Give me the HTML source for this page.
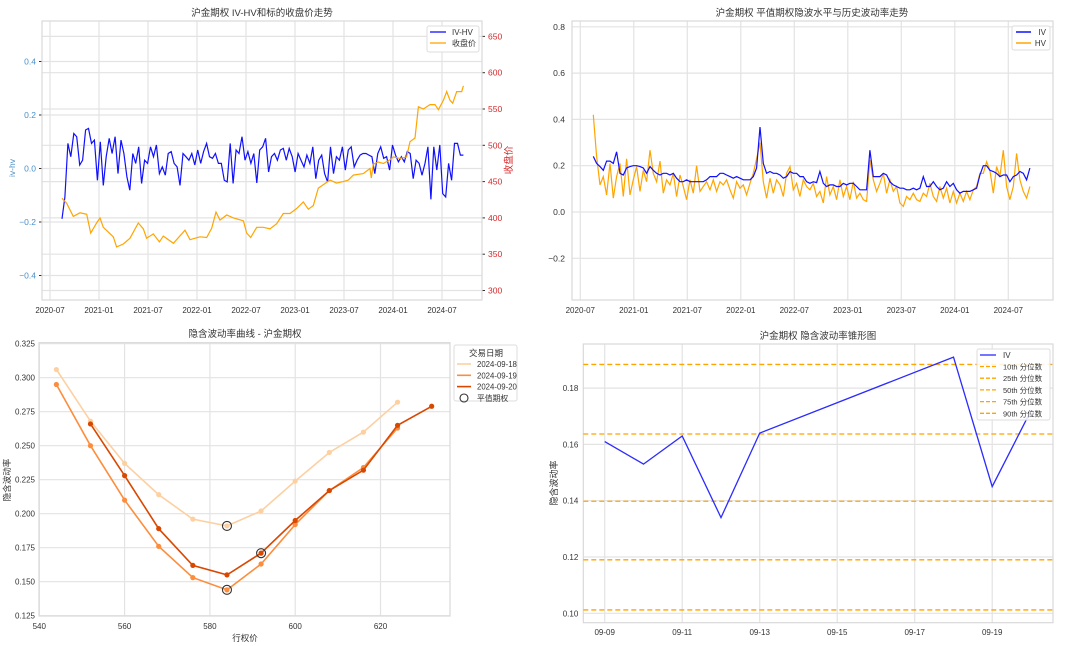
<!DOCTYPE html>
<html><head><meta charset="utf-8"><style>
body{margin:0;background:#fff}
svg{display:block;font-family:"Liberation Sans","Noto Sans CJK SC",sans-serif}
</style></head><body>
<svg id="fig" width="1080" height="646" viewBox="0 0 1080 646"></svg>
<script>
// ===== Panel 1 data =====
const p1IvHv = [-0.188,-0.106,0.094,0.044,0.131,0.119,0.013,0.031,0.144,0.15,0.094,0.106,-0.044,0.1,-0.063,0.044,0.113,0.056,0.119,-0.019,0.106,0.056,-0.031,-0.081,0.056,0.019,0.081,-0.056,0.031,0.019,0.081,0.044,0.088,-0.019,0.006,-0.025,0.056,0.063,0.019,0.006,-0.063,0.056,0.044,0.031,0.056,0.013,0.069,0.019,0.063,0.094,0.044,0.038,0.056,0.019,0.019,-0.044,-0.05,0.094,-0.056,0.069,0.056,0.119,0.031,0.063,0.019,0.056,-0.054,0.069,0.081,0.113,-0.013,0.044,0.056,0.031,0.069,0.075,0.031,0.075,0.044,-0.013,0.056,0.031,0.006,0.05,0.019,0.081,-0.038,0.031,0.05,-0.019,-0.05,0.081,-0.019,0.044,0.031,0.081,-0.006,0.069,0.081,0.006,0.031,0.05,0.056,0.056,0.05,0.044,-0.019,0.056,0.081,0.038,0.044,-0.006,0.088,0.05,0.025,0.044,0.025,0.063,0.056,-0.038,0.031,0.019,-0.025,0.019,0.081,-0.115,0.081,-0.006,0.088,-0.094,-0.106,0.019,-0.044,0.094,0.094,0.05,0.05];
const p1Start = 2020.622, p1End = 2024.718;
const closeYears = [0.122,0.170,0.238,0.306,0.374,0.415,0.476,0.510,0.544,0.646,0.680,0.748,0.816,0.901,0.952,0.986,1.054,1.116,1.156,1.259,1.378,1.429,1.531,1.599,1.650,1.694,1.735,1.803,1.871,1.973,2.007,2.048,2.109,2.177,2.245,2.313,2.381,2.449,2.517,2.585,2.636,2.687,2.738,2.857,2.925,2.993,3.044,3.095,3.197,3.265,3.279,3.299,3.350,3.401,3.469,3.503,3.571,3.639,3.673,3.724,3.759,3.810,3.878,3.929,3.963,4.014,4.048,4.082,4.109,4.150,4.201,4.218];
const closePrice = [427,420,402,407,405,379,393,400,387,374,360,364,372,393,385,372,378,367,375,365,383,370,374,373,386,408,397,404,400,396,379,373,387,387,385,392,406,406,413,422,412,417,441,452,448,450,452,459,461,468,455,474,477,475,480,484,482,484,505,510,553,550,556,556,549,562,574,562,558,574,574,582];
const p1XTicks = ["2020-07","2021-01","2021-07","2022-01","2022-07","2023-01","2023-07","2024-01","2024-07"];
const p1LeftTicks = [-0.4,-0.2,0.0,0.2,0.4];
const p1RightTicks = [300,350,400,450,500,550,600,650];
// ===== Panel 2 data =====
const p2Iv = [.24,.21,.196,.18,.22,.22,.21,.26,.167,.16,.19,.196,.20,.20,.196,.19,.167,.196,.18,.167,.16,.167,.167,.16,.167,.146,.131,.131,.139,.131,.131,.131,.131,.131,.139,.153,.153,.153,.167,.167,.16,.153,.146,.153,.146,.139,.139,.139,.153,.19,.367,.21,.167,.175,.167,.167,.16,.146,.153,.175,.167,.167,.153,.153,.131,.124,.131,.127,.175,.124,.11,.117,.117,.11,.11,.124,.117,.124,.124,.11,.096,.096,.096,.267,.153,.153,.153,.167,.16,.131,.117,.11,.103,.103,.096,.096,.103,.096,.103,.153,.11,.11,.131,.11,.096,.103,.131,.11,.124,.096,.081,.089,.089,.089,.096,.103,.16,.20,.20,.18,.175,.167,.153,.16,.16,.131,.153,.16,.175,.167,.139,.19];
const p2Hv = [.42,.24,.117,.153,.074,.21,.06,.153,.21,.067,.23,.074,.139,.196,.089,.18,.131,.267,.167,.131,.22,.081,.139,.117,.167,.067,.16,.11,.053,.139,.081,.20,.089,.11,.131,.096,.139,.089,.131,.117,.139,.096,.06,.131,.103,.117,.074,.124,.167,.23,.30,.131,.06,.146,.081,.139,.117,.067,.167,.196,.096,.124,.067,.139,.11,.096,.124,.067,.089,.039,.153,.074,.11,.053,.139,.067,.11,.053,.131,.06,.081,.053,.046,.224,.139,.089,.124,.167,.081,.139,.089,.11,.039,.024,.067,.053,.081,.053,.046,.081,.067,.124,.067,.046,.11,.06,.103,.039,.089,.039,.081,.046,.089,.053,.096,.11,.167,.167,.217,.18,.081,.196,.153,.267,.11,.053,.11,.253,.139,.089,.06,.11];
const p2Start = 2020.6215, p2Step = 0.03115;
const p2YTicks = [-0.2,0.0,0.2,0.4,0.6,0.8];
// ===== Panel 3 data =====
const strikes18 = [544,552,560,568,576,584,592,600,608,616,624];
const iv18 = [0.306,0.268,0.237,0.214,0.196,0.191,0.202,0.224,0.245,0.260,0.282];
const strikes19 = [544,552,560,568,576,584,592,600,608,616,624];
const iv19 = [0.295,0.250,0.210,0.176,0.153,0.144,0.163,0.192,0.217,0.234,0.263];
const strikes20 = [552,560,568,576,584,592,600,608,616,624,632];
const iv20 = [0.266,0.228,0.189,0.162,0.155,0.171,0.195,0.217,0.232,0.265,0.279];
const atmStrike = [584,584,592];
const atmIv = [0.191,0.144,0.171];
const p3XTicks = [540,560,580,600,620];
const p3YTicks = [0.125,0.150,0.175,0.200,0.225,0.250,0.275,0.300,0.325];
// ===== Panel 4 data =====
const coneDays = [9,10,11,12,13,18,19,20];
const coneIv = [0.161,0.153,0.163,0.134,0.164,0.191,0.145,0.172];
const quantLabels = ["10th 分位数","25th 分位数","50th 分位数","75th 分位数","90th 分位数"];
const quantValues = [0.1012,0.119,0.1398,0.1637,0.1884];
const p4XTicks = [9,11,13,15,17,19];
const p4YTicks = [0.10,0.12,0.14,0.16,0.18];

const NS="http://www.w3.org/2000/svg";
const fig=document.getElementById('fig');
function mk(tag,attrs,parent,text){const e=document.createElementNS(NS,tag);for(const k in attrs)e.setAttribute(k,attrs[k]);if(text!==undefined)e.textContent=text;(parent||fig).appendChild(e);return e;}
const GRID="#e3e3e3", TXT="#333";

function frame(name,x0,y0,x1,y1){
  const g=mk('g',{});
  
  
  return g;
}
function border(g,x0,y0,x1,y1){const r=mk('rect',{x:x0,y:y0,width:x1-x0,height:y1-y0,fill:'none',stroke:'#d9d9d9','stroke-width':1.2},g);}
function hgrid(g,y,x0,x1){mk('line',{x1:x0,x2:x1,y1:y,y2:y,stroke:GRID,'stroke-width':1.2},g);}
function vgrid(g,x,y0,y1){mk('line',{x1:x,x2:x,y1:y0,y2:y1,stroke:GRID,'stroke-width':1.2},g);}
function txt(g,x,y,s,opt){opt=opt||{};const t=mk('text',Object.assign({x:x,y:y,'font-size':opt.size||8.5,fill:opt.fill||TXT,'text-anchor':opt.anchor||'middle'},opt.extra||{}),g,s);return t;}
function poly(g,pts,attrs){return mk('polyline',Object.assign({points:pts.map(p=>p[0].toFixed(1)+','+p[1].toFixed(1)).join(' '),fill:'none'},attrs),g);}

// ================= Panel 1 =================
(function(){
  const X0=42,X1=482,Y0=21,Y1=300;
  const xs=t=>50+(t-2020.5)*98;
  const yl=v=>168.5-v*267.5;
  const yr=p=>145.3-(p-500)*0.726;
  const g=frame('iv-hv-close-chart');
  p1XTicks.forEach((s,i)=>{const x=xs(2020.5+i*0.5);vgrid(g,x,Y0,Y1);const t=txt(g,x,313,s,{size:8});});
  p1LeftTicks.forEach(v=>{hgrid(g,yl(v),X0,X1);mk('line',{x1:X0-3,x2:X0,y1:yl(v),y2:yl(v),stroke:'#333'},g);const t=txt(g,X0-6,yl(v)+3,(v<0?'−':'')+Math.abs(v).toFixed(1),{anchor:'end',fill:'#4a8fc9'});});
  p1RightTicks.forEach(p=>{hgrid(g,yr(p),X0,X1);mk('line',{x1:X1,x2:X1+3,y1:yr(p),y2:yr(p),stroke:'#333'},g);const t=txt(g,X1+6,yr(p)+3,String(p),{anchor:'start',fill:'#d62728'});});
  border(g,X0,Y0,X1,Y1);
  const step=(p1End-p1Start)/(p1IvHv.length-1);
  const l1=poly(g,p1IvHv.map((v,i)=>[xs(p1Start+i*step),yl(v)]),{stroke:'#1010ff','stroke-width':1.2});
  
  const l2=poly(g,closePrice.map((p,i)=>[xs(2020.5+closeYears[i]),yr(p)]),{stroke:'#ffa500','stroke-width':1.2});
  
  const tt=txt(g,262,16,'沪金期权 IV-HV和标的收盘价走势',{size:9.5});
  const yl1=txt(g,0,0,'iv-hv',{fill:'#4a8fc9',extra:{transform:'translate(15,168) rotate(-90)'}});
  const yr1=txt(g,0,0,'收盘价',{fill:'#d62728',size:9.5,extra:{transform:'translate(512,160) rotate(-90)'}});
  const lg=mk('g',{},g);
  mk('rect',{x:427,y:26,width:52,height:26,fill:'#fff',stroke:'#ddd',rx:2},lg);
  mk('line',{x1:430,x2:446,y1:32,y2:32,stroke:'#1010ff','stroke-width':1.3},lg);txt(lg,452,35,'IV-HV',{anchor:'start',size:8});
  mk('line',{x1:430,x2:446,y1:43,y2:43,stroke:'#ffa500','stroke-width':1.3},lg);txt(lg,452,46,'收盘价',{anchor:'start',size:8});
})();

// ================= Panel 2 =================
(function(){
  const X0=572,X1=1053,Y0=21,Y1=300;
  const xs=t=>580.3+(t-2020.5)*107;
  const ys=v=>212-v*231.5;
  const g=frame('iv-hv-trend-chart');
  p1XTicks.forEach((s,i)=>{const x=xs(2020.5+i*0.5);vgrid(g,x,Y0,Y1);const t=txt(g,x,313,s,{size:8});});
  p2YTicks.forEach(v=>{hgrid(g,ys(v),X0,X1);const t=txt(g,X0-7,ys(v)+3,(v<0?'−':'')+Math.abs(v).toFixed(1),{anchor:'end'});});
  border(g,X0,Y0,X1,Y1);
  const l2=poly(g,p2Hv.map((v,i)=>[xs(p2Start+i*p2Step),ys(v)]),{stroke:'#ffa500','stroke-width':1.2});
  
  const l1=poly(g,p2Iv.map((v,i)=>[xs(p2Start+i*p2Step),ys(v)]),{stroke:'#1010ff','stroke-width':1.2});
  
  const tt=txt(g,812,16,'沪金期权 平值期权隐波水平与历史波动率走势',{size:9.5});
  const lg=mk('g',{},g);
  mk('rect',{x:1012,y:26,width:38,height:24,fill:'#fff',stroke:'#ddd',rx:2},lg);
  mk('line',{x1:1016,x2:1031,y1:32,y2:32,stroke:'#1010ff','stroke-width':1.5},lg);txt(lg,1046,35,'IV',{anchor:'end',size:8});
  mk('line',{x1:1016,x2:1031,y1:43,y2:43,stroke:'#ffa500','stroke-width':1.5},lg);txt(lg,1046,46,'HV',{anchor:'end',size:8});
})();

// ================= Panel 3 =================
(function(){
  const X0=39,X1=450,Y0=342.7,Y1=616;
  const xs=k=>39.3+(k-540)*4.265;
  const ys=v=>615.7-(v-0.125)*1360;
  const g=frame('iv-smile-chart');
  p3XTicks.forEach(k=>{vgrid(g,xs(k),Y0,Y1);const t=txt(g,xs(k),629,String(k),{size:8});});
  p3YTicks.forEach(v=>{hgrid(g,ys(v),X0,X1);const t=txt(g,X0-4,ys(v)+3,v.toFixed(3),{anchor:'end',size:8});});
  border(g,X0,Y0,X1,Y1);
  const series=[[strikes18,iv18,'#fdd0a2','smile-2024-09-18'],[strikes19,iv19,'#fd8d3c','smile-2024-09-19'],[strikes20,iv20,'#d94801','smile-2024-09-20']];
  series.forEach(s=>{
    const sg=mk('g',{},g);
    poly(sg,s[0].map((k,i)=>[xs(k),ys(s[1][i])]),{stroke:s[2],'stroke-width':1.6});
    s[0].forEach((k,i)=>{const c=mk('circle',{cx:xs(k),cy:ys(s[1][i]),r:2.6,fill:s[2]},sg);});
  });
  atmStrike.forEach((k,i)=>{const c=mk('circle',{cx:xs(k),cy:ys(atmIv[i]),r:4.5,fill:'none',stroke:'#333','stroke-width':1.1},g);});
  const tt=txt(g,245,337,'隐含波动率曲线 - 沪金期权',{size:9.5});
  const xl=txt(g,245,641,'行权价',{size:8.5});
  const yl=txt(g,0,0,'隐含波动率',{size:8.5,extra:{transform:'translate(10,480) rotate(-90)'}});
  const lg=mk('g',{},g);
  mk('rect',{x:454,y:345,width:63,height:56,fill:'#fff',stroke:'#ddd',rx:2},lg);
  txt(lg,486,356,'交易日期',{size:8.5});
  [['2024-09-18','#fdd0a2'],['2024-09-19','#fd8d3c'],['2024-09-20','#d94801']].forEach((d,i)=>{const y=364+i*11.3;mk('line',{x1:457,x2:471,y1:y,y2:y,stroke:d[1],'stroke-width':1.6},lg);txt(lg,477,y+3,d[0],{anchor:'start',size:7.8});});
  mk('circle',{cx:464,cy:399-1,r:4,fill:'none',stroke:'#333','stroke-width':1.1},lg);txt(lg,477,401,'平值期权',{anchor:'start',size:7.8});
})();

// ================= Panel 4 =================
(function(){
  const X0=583.3,X1=1053,Y0=344,Y1=622.7;
  const xs=d=>604.7+(d-9)*38.75;
  const ys=v=>613.3-(v-0.10)*2815;
  const g=frame('iv-cone-chart');
  p4XTicks.forEach(d=>{vgrid(g,xs(d),Y0,Y1);const t=txt(g,xs(d),635,'09-'+String(d).padStart(2,'0'),{size:8});});
  p4YTicks.forEach(v=>{hgrid(g,ys(v),X0,X1);const t=txt(g,X0-5,ys(v)+3,v.toFixed(2),{anchor:'end',size:8});});
  border(g,X0,Y0,X1,Y1);
  quantValues.forEach((q,i)=>{const l=mk('line',{x1:X0,x2:X1,y1:ys(q),y2:ys(q),stroke:'#ffa500','stroke-width':1.3,'stroke-dasharray':'5,3'},g);});
  const l=poly(g,coneDays.map((d,i)=>[xs(d),ys(coneIv[i])]),{stroke:'#2b2bff','stroke-width':1.3});
  
  const tt=txt(g,818,339,'沪金期权 隐含波动率锥形图',{size:9.5});
  const yl=txt(g,0,0,'隐含波动率',{size:9,extra:{transform:'translate(557,483) rotate(-90)'}});
  const lg=mk('g',{},g);
  mk('rect',{x:977,y:349,width:73,height:71,fill:'#fff','fill-opacity':0.85,stroke:'#ddd',rx:2},lg);
  mk('line',{x1:980,x2:996,y1:355,y2:355,stroke:'#2b2bff','stroke-width':1.3},lg);txt(lg,1003,358,'IV',{anchor:'start',size:8});
  quantLabels.forEach((s,i)=>{const y=366.5+i*11.7;mk('line',{x1:980,x2:996,y1:y,y2:y,stroke:'#ffa500','stroke-width':1.3,'stroke-dasharray':'4,2'},lg);txt(lg,1003,y+3,s,{anchor:'start',size:7.5});});
})();
</script>
</body></html>
